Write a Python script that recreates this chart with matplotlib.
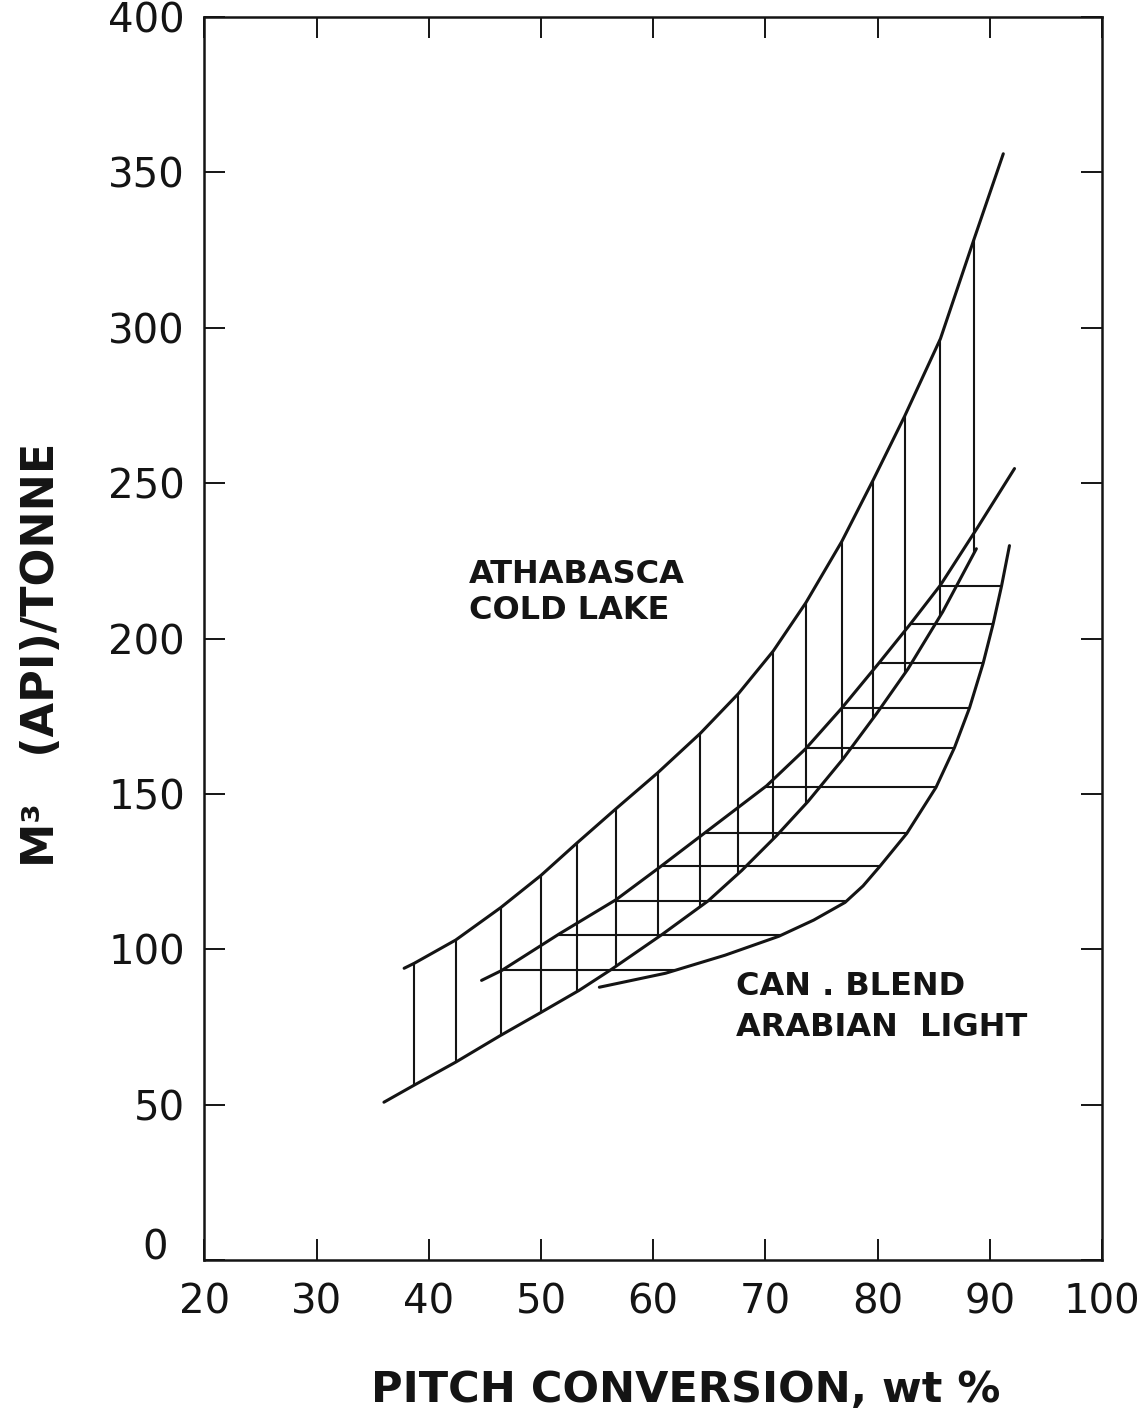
import numpy as np
import matplotlib
matplotlib.use("Agg")
import matplotlib.pyplot as plt
from matplotlib.transforms import ScaledTranslation

# ---- data ----
ath_upper_x = [37.8, 38.7, 42.4, 46.4, 50.0, 53.2, 56.7, 60.4, 64.2, 67.6, 70.7, 73.6, 76.8, 79.6, 82.4, 85.6, 88.6, 91.2]
ath_upper_y = [93.9, 95.5, 103.0, 113.4, 123.8, 134.2, 145.3, 156.8, 169.5, 182.3, 196.0, 211.5, 231.2, 251.0, 271.5, 296.5, 328.6, 356.0]

ath_lower_x = [36.0, 38.7, 42.4, 46.4, 50.0, 53.4, 56.3, 60.8, 64.9, 67.9, 71.0, 73.8, 76.9, 79.9, 82.7, 85.8, 88.8]
ath_lower_y = [50.8, 56.3, 63.7, 72.3, 79.7, 86.8, 93.6, 104.8, 115.6, 125.4, 136.6, 147.6, 161.2, 175.8, 190.2, 208.6, 228.9]

can_upper_x = [44.7, 46.5, 51.6, 56.7, 60.5, 64.5, 70.1, 73.6, 76.8, 80.0, 82.9, 85.6, 88.9, 92.2]
can_upper_y = [90.0, 93.2, 104.9, 116.0, 126.2, 137.2, 152.6, 164.6, 177.6, 191.6, 204.6, 217.2, 235.7, 254.7]

can_lower_x = [55.2, 61.1, 66.4, 71.2, 74.3, 77.1, 78.7, 80.2, 82.6, 85.2, 86.85, 88.2, 89.4, 90.3, 91.05, 91.75]
can_lower_y = [87.8, 92.3, 98.1, 104.2, 109.4, 115.1, 120.4, 126.7, 137.3, 152.1, 164.9, 177.8, 192.0, 204.8, 217.0, 229.9]

# hatch positions
ath_hatch_x = [38.7, 42.4, 46.4, 50.0, 53.2, 56.7, 60.4, 64.2, 67.6, 70.7, 73.6, 76.8, 79.6, 82.4, 85.6, 88.6]
can_hatch_y = [93.2, 104.5, 115.4, 126.7, 137.3, 152.1, 164.9, 177.8, 192.0, 204.8, 217.0]

x_ticks = [20, 30, 40, 50, 60, 70, 80, 90, 100]
y_ticks = [0, 50, 100, 150, 200, 250, 300, 350, 400]
x_ticklabels = ["20", "30", "40", "50", "60", "70", "80", "90", "100"]
y_ticklabels = ["0", "50", "100", "150", "200", "250", "300", "350", "400"]

label_athabasca = "ATHABASCA\nCOLD LAKE"
label_canblend = "CAN . BLEND\nARABIAN  LIGHT"
x_label = "PITCH CONVERSION, wt %"
y_label = "M³   (API)/TONNE"

# ---- figure ----
plt.rcParams["font.family"] = ["DejaVu Sans"]
fig = plt.figure(figsize=(11.42, 14.19), dpi=100)
ax = fig.add_axes([0.179, 0.112, 0.786, 0.876])

ink = "#141414"
curve_lw = 2.2
hatch_lw = 1.5

for xs, ys in [(ath_upper_x, ath_upper_y), (ath_lower_x, ath_lower_y),
               (can_upper_x, can_upper_y), (can_lower_x, can_lower_y)]:
    ax.plot(xs, ys, color=ink, lw=curve_lw, solid_capstyle="round",
            solid_joinstyle="round")

vx = np.array(ath_hatch_x)
v_top = np.interp(vx, ath_upper_x, ath_upper_y)
v_bot = np.interp(vx, ath_lower_x, ath_lower_y)
ax.vlines(vx, v_bot, v_top, color=ink, lw=hatch_lw)

hy = np.array(can_hatch_y)
h_left = np.interp(hy, can_upper_y, can_upper_x)
h_right = np.interp(hy, can_lower_y, can_lower_x)
ax.hlines(hy, h_left, h_right, color=ink, lw=hatch_lw)

ax.text(43.6, 225.5, label_athabasca, ha="left", va="top", fontsize=23,
        fontweight="bold", color=ink, linespacing=1.2)
ax.text(67.4, 93.0, label_canblend, ha="left", va="top", fontsize=23,
        fontweight="bold", color=ink, linespacing=1.4)

ax.set_xlim(20, 100)
ax.set_ylim(0, 400)
ax.set_xticks(x_ticks)
ax.set_yticks(y_ticks)
ax.set_xticklabels(x_ticklabels)
ax.set_yticklabels(y_ticklabels)
ax.tick_params(axis="both", which="major", direction="in", length=15, width=1.4,
               top=True, right=True, labelsize=29, colors=ink, pad=14)
ax.tick_params(axis="x", pad=16)
for s in ax.spines.values():
    s.set_linewidth(1.8)
    s.set_color(ink)

ax.set_xlabel(x_label, fontsize=31, fontweight="bold", color=ink)
ax.xaxis.set_label_coords(0.536, -0.088)
ax.set_ylabel(y_label, fontsize=32, fontweight="bold", color=ink)
ax.yaxis.set_label_coords(-0.158, 0.487)

# the "0" on the y axis sits up and left of the corner in the original
zero_lab = ax.yaxis.get_major_ticks()[0].label1
zero_lab.set_transform(zero_lab.get_transform() +
                       ScaledTranslation(-0.17, 0.16, fig.dpi_scale_trans))

fig.savefig("out.png", dpi=100, facecolor="white")
